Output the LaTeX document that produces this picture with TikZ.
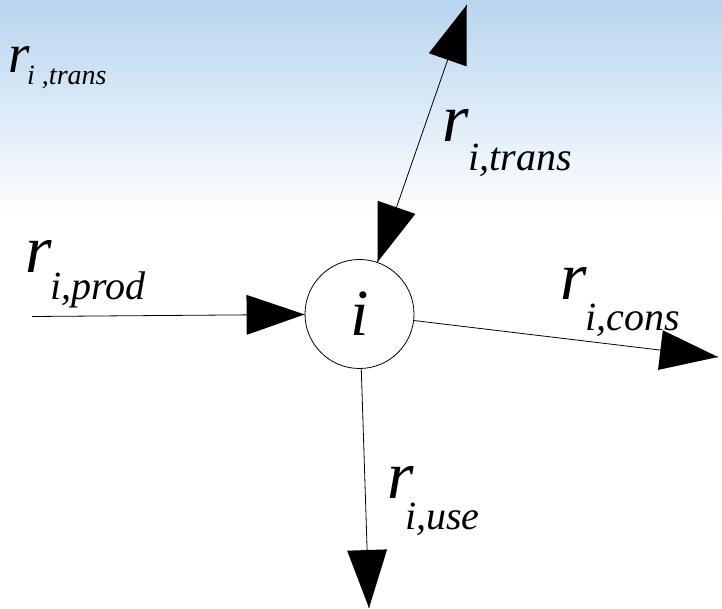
\documentclass[tikz,border=0pt]{standalone}
\usepackage{fontspec}
\newfontfamily\lserif{Liberation Serif}
\newcommand\rfont{\lserif\fontsize{68}{68}\selectfont\itshape}
\newcommand\sfontsub{\lserif\fontsize{40}{40}\selectfont\itshape}
\newcommand\cfont{\lserif\fontsize{66}{66}\selectfont\itshape}
\newcommand\rsmall{\lserif\fontsize{55}{55}\selectfont\itshape}
\newcommand\ssmall{\lserif\fontsize{28}{28}\selectfont\itshape}
\pgfarrowsdeclare{bigtri}{bigtri}
{\pgfarrowsleftextend{-58pt}\pgfarrowsrightextend{0pt}}
{
  \pgfpathmoveto{\pgfpoint{0pt}{0pt}}
  \pgfpathlineto{\pgfpoint{-58pt}{20pt}}
  \pgfpathlineto{\pgfpoint{-58pt}{-20pt}}
  \pgfpathclose
  \pgfusepathqfill
}
\definecolor{skytop}{RGB}{184,212,239}
\tikzset{
  conn/.style={line width=0.8pt, draw=black},
  bigtip/.style={-bigtri},
  bothtip/.style={bigtri-bigtri},
  lab/.style={anchor=base west, inner sep=0pt},
  cnode/.style={circle, draw, line width=0.8pt, fill=white, minimum size=109pt, inner sep=0pt}
}
\begin{document}
\begin{tikzpicture}[x=1pt,y=-1pt]
\useasboundingbox (0,0) rectangle (722,609);
\foreach \k in {0,...,53}{
  \pgfmathsetmacro\pct{100-\k*100/54}
  \fill[skytop!\pct!white] (0,\k*4) rectangle (722,\k*4+4.3);
}
% centre node
\node[cnode] (c) at (359.5,314) {\cfont i};
% free ends
\coordinate (pl) at (32,316.5);
\coordinate (pt) at (466.7,5);
\coordinate (pr) at (718,357);
\coordinate (pb) at (369,608);
% connectors
\draw[conn,bigtip] (pl) -- (c);
\draw[conn,bothtip] (pt) -- (c);
\draw[conn,bigtip] (c) -- (pr);
\draw[conn,bigtip] (c) -- (pb);
% labels
\node[lab] (rtl) at (8,73) {\rsmall r};
\node[lab] (stl) at (27,85) {\ssmall i ,trans};
\node[lab] (rt) at (442,142) {\rfont r};
\node[lab] (st) at (468,171) {\sfontsub i,trans};
\node[lab] (rl) at (25,273) {\rfont r};
\node[lab] (sl) at (50,300) {\sfontsub i,prod};
\node[lab] (rr) at (560,300) {\rfont r};
\node[lab] (sr) at (585,330) {\sfontsub i,cons};
\node[lab] (rb) at (387,498) {\rfont r};
\node[lab] (sb) at (405,529) {\sfontsub i,use};
\end{tikzpicture}
\end{document}
